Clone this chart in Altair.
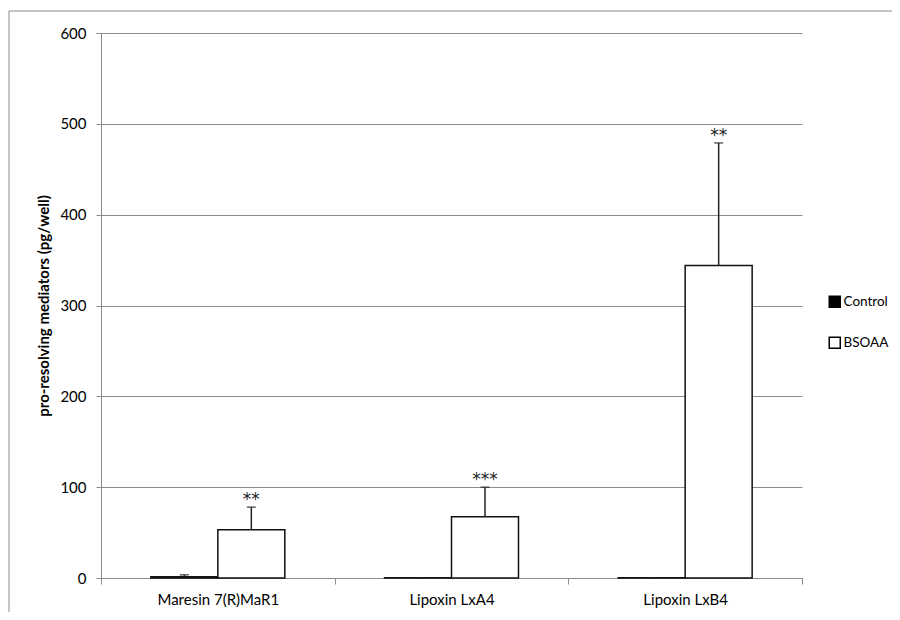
import altair as alt
import pandas as pd

categories = ["Maresin 7(R)MaR1", "Lipoxin LxA4", "Lipoxin LxB4"]
series = ["Control", "BSOAA"]
control_mean = [1.5, 0.3, 0.3]
control_err = [2.0, 0.0, 0.0]
bsoaa_mean = [53, 67.5, 344]
bsoaa_err = [25, 32.5, 135]
stars = ["**", "***", "**"]
y_ticks = [0, 100, 200, 300, 400, 500, 600]

rows = []
for i, c in enumerate(categories):
    rows.append({"cat": c, "series": "Control", "mean": control_mean[i], "err": control_err[i], "stars": ""})
    rows.append({"cat": c, "series": "BSOAA", "mean": bsoaa_mean[i], "err": bsoaa_err[i], "stars": stars[i]})
df = pd.DataFrame(rows)
df["top"] = df["mean"] + df["err"]

FONT = "Lato"
GRID = "#8c8c8c"

x_enc = alt.X("cat:N", sort=categories, title=None,
              scale=alt.Scale(paddingInner=0, paddingOuter=0),
              axis=alt.Axis(labelAngle=0, tickBand="extent", tickSize=6, domainColor=GRID,
                            tickColor=GRID, labelFontSize=15, labelFont=FONT, labelColor="#000",
                            labelPadding=8, grid=False))
xoff = alt.XOffset("series:N", sort=series, scale=alt.Scale(paddingInner=0, paddingOuter=0.744))
y_scale = alt.Scale(domain=[0, 600], nice=False)

base = alt.Chart(df)

bars = base.mark_bar(stroke="#111", strokeWidth=1.5).encode(
    x=x_enc,
    xOffset=xoff,
    y=alt.Y("mean:Q", scale=y_scale, title="pro-resolving mediators (pg/well)",
            axis=alt.Axis(values=y_ticks, tickSize=5, tickColor=GRID, domainColor=GRID,
                          gridColor=GRID, gridWidth=1, labelFontSize=15, labelFont=FONT,
                          labelColor="#000", labelPadding=10, titleFont=FONT, titleFontSize=15,
                          titleFontWeight="bold", titleColor="#000", titlePadding=8)),
    color=alt.Color("series:N", sort=series,
                    scale=alt.Scale(domain=series, range=["#000000", "#ffffff"]),
                    legend=alt.Legend(title=None, orient="none", legendX=727, legendY=262,
                                      symbolType="square", symbolSize=121,
                                      symbolStrokeColor="#000", symbolStrokeWidth=1.5,
                                      labelFont=FONT, labelFontSize=13.5, labelColor="#000",
                                      labelOffset=2, rowPadding=23)),
)

err_rule = base.mark_rule(color="#222", strokeWidth=1.5).encode(
    x=alt.X("cat:N", sort=categories),
    xOffset=xoff,
    y=alt.Y("mean:Q", scale=y_scale),
    y2="top:Q",
)

caps = base.mark_tick(color="#222", thickness=1.5, size=9).encode(
    x=alt.X("cat:N", sort=categories),
    xOffset=xoff,
    y=alt.Y("top:Q", scale=y_scale),
)

star_text = base.mark_text(font="DejaVu Sans", fontSize=17, color="#222",
                           baseline="alphabetic", dy=-2).encode(
    x=alt.X("cat:N", sort=categories),
    xOffset=xoff,
    y=alt.Y("top:Q", scale=y_scale),
    text="stars:N",
)

frame_top = alt.Chart(alt.Data(values=[{}])).mark_rule(color=GRID, strokeWidth=1).encode(
    x=alt.value(-92), x2=alt.value(791), y=alt.value(-22)
)
frame_left = alt.Chart(alt.Data(values=[{}])).mark_rule(color=GRID, strokeWidth=1).encode(
    x=alt.value(-92), y=alt.value(-22), y2=alt.value(579)
)

chart = alt.layer(frame_top, frame_left, bars, err_rule, caps, star_text).properties(
    width=701, height=545,
    autosize=alt.AutoSizeParams(type="none"),
    padding={"left": 93, "top": 25, "right": 90, "bottom": 34},
).configure_view(stroke=None).configure_axis(labelFont=FONT)

chart.save("out.html", embed_options={"renderer": "svg", "actions": False})
